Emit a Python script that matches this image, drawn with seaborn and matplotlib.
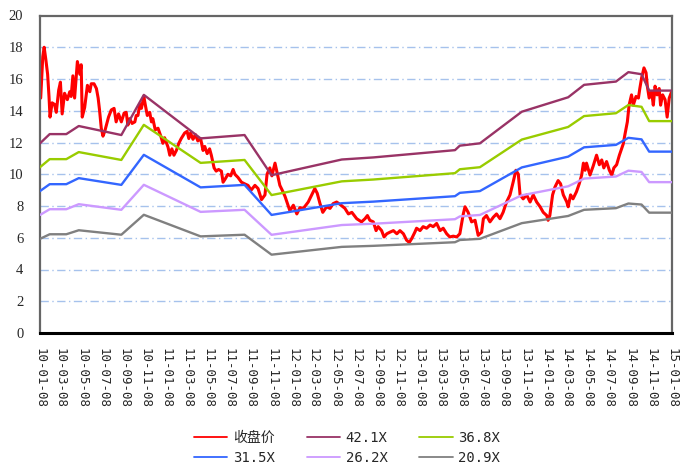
import numpy as np
import pandas as pd
import matplotlib.pyplot as plt
from matplotlib.lines import Line2D
from matplotlib.font_manager import FontProperties
import seaborn as sns

sns.set_style('white')
plt.rcParams['font.family'] = ['DejaVu Sans Mono', 'Noto Sans CJK SC']

start = pd.Timestamp('2010-01-08')
end = pd.Timestamp('2015-01-08')

# closing price (days counted from 2010-01-08)
price_days = [2, 8, 12, 17, 22, 26, 29, 35, 42, 47, 54, 59, 64, 71, 79, 86, 90, 95, 100, 108,
              115, 119, 122, 129, 137, 144, 148, 156, 163, 168, 172, 177, 182, 187, 192, 198, 206, 214, 220, 227,
              235, 243, 249, 254, 259, 266, 274, 278, 283, 288, 293, 300, 304, 310, 317, 322, 326, 333, 341, 349,
              355, 360, 370, 375, 381, 387, 394, 401, 408, 418, 425, 430, 435, 442, 449, 456, 464, 471, 476, 483,
              490, 495, 503, 509, 516, 524, 529, 535, 543, 551, 558, 563, 572, 582, 591, 601, 610, 621, 630, 640,
              650, 656, 664, 670, 679, 685, 693, 702, 708, 722, 732, 742, 751, 761, 775, 785, 794, 801, 809, 817,
              828, 838, 847, 857, 867, 881, 891, 901, 915, 929, 939, 946, 953, 963, 971, 977, 987, 994, 1002, 1011,
              1021, 1031, 1040, 1050, 1059, 1067, 1074, 1083, 1088, 1098, 1107, 1117, 1127, 1136, 1146, 1156, 1165, 1175, 1184, 1194,
              1204, 1213, 1223, 1228, 1237, 1247, 1257, 1266, 1276, 1281, 1290, 1300, 1310, 1319, 1329, 1338, 1348, 1358, 1367, 1375,
              1382, 1387, 1396, 1406, 1416, 1425, 1435, 1445, 1454, 1464, 1468, 1473, 1481, 1488, 1497, 1504, 1512, 1522, 1526, 1533,
              1540, 1550, 1558, 1565, 1570, 1575, 1579, 1589, 1598, 1608, 1616, 1623, 1629, 1637, 1645, 1652, 1658, 1666, 1674, 1681,
              1685, 1690, 1697, 1702, 1709, 1714, 1722, 1729, 1733, 1738, 1745, 1751, 1755, 1760, 1767, 1772, 1777, 1783, 1789, 1793,
              1799, 1806, 1812, 1818, 1825]
price_close = [14.8, 17.4, 18.0, 17.2, 16.3, 14.9, 13.6, 14.5, 14.4, 13.9, 15.3, 15.8, 13.8, 15.1, 14.7, 15.2, 14.9, 16.2, 14.8, 17.1,
               16.3, 16.9, 13.6, 14.2, 15.6, 15.2, 15.7, 15.7, 15.4, 14.8, 14.05, 12.9, 12.4, 12.7, 13.1, 13.6, 14.05, 14.15, 13.3, 13.8,
               13.3, 13.85, 13.9, 13.1, 13.5, 13.2, 13.3, 13.7, 13.7, 14.4, 14.15, 14.9, 14.4, 13.7, 13.9, 13.3, 13.5, 12.8, 12.9, 12.4,
               11.95, 12.3, 11.7, 11.2, 11.6, 11.2, 11.5, 11.95, 12.25, 12.6, 12.7, 12.25, 12.6, 12.2, 12.5, 12.1, 12.25, 11.5, 11.75, 11.3,
               11.6, 11.2, 10.4, 10.2, 10.3, 10.2, 9.5, 9.7, 10.0, 9.9, 10.3, 10.0, 9.8, 9.5, 9.4, 9.3, 9.0, 9.3, 9.1, 8.4,
               8.7, 10.0, 10.4, 9.9, 10.7, 10.1, 9.3, 8.9, 8.6, 7.7, 8.05, 7.5, 7.9, 7.85, 8.25, 8.7, 9.1, 8.8, 8.15, 7.6,
               7.95, 7.85, 8.15, 8.25, 8.1, 7.85, 7.5, 7.6, 7.2, 7.0, 7.2, 7.4, 7.1, 7.0, 6.45, 6.7, 6.45, 6.05, 6.25, 6.35,
               6.45, 6.25, 6.45, 6.25, 5.85, 5.7, 5.95, 6.35, 6.6, 6.45, 6.7, 6.6, 6.8, 6.7, 6.9, 6.45, 6.6, 6.25, 6.05, 6.1,
               6.05, 6.25, 7.5, 7.95, 7.6, 7.0, 7.1, 6.15, 6.35, 7.2, 7.4, 7.0, 7.3, 7.5, 7.2, 7.6, 8.25, 8.7, 9.5, 10.25,
               10.0, 8.7, 8.45, 8.7, 8.25, 8.7, 8.25, 7.95, 7.6, 7.4, 7.1, 7.4, 8.7, 9.2, 9.6, 9.4, 8.7, 8.25, 7.95, 8.7,
               8.45, 8.9, 9.4, 9.95, 10.7, 10.25, 10.7, 9.95, 10.5, 11.2, 10.6, 10.9, 10.4, 10.8, 10.25, 9.95, 10.4, 10.6, 11.2, 11.65,
               11.9, 12.5, 13.3, 14.35, 15.0, 14.35, 14.9, 14.8, 15.4, 16.05, 16.7, 16.4, 15.5, 14.8, 15.2, 14.35, 15.55, 15.0, 15.4, 14.35,
               15.0, 14.7, 13.6, 14.8, 15.2]

# EPS nodes behind the PE bands
eps_days = [0, 28, 76, 112, 235, 300, 464, 591, 669, 872, 963, 1199, 1213, 1271, 1392, 1526, 1572, 1664, 1700, 1738, 1760, 1826]
eps_values = [0.2838, 0.2976, 0.2976, 0.3097, 0.2962, 0.3563, 0.2912, 0.2962, 0.2361, 0.2596, 0.2627, 0.2736, 0.2803,
              0.2838, 0.3311, 0.3527, 0.3713, 0.3762, 0.3903, 0.3872, 0.3627, 0.3627]

pe_multiples = [42.1, 36.8, 31.5, 26.2, 20.9]
pe_labels = ['42.1X', '36.8X', '31.5X', '26.2X', '20.9X']
band_colors = ['#993366', '#99CC00', '#3366FF', '#CC99FF', '#808080']

price_df = pd.DataFrame({'date': start + pd.to_timedelta(price_days, unit='D'), 'close': price_close})
eps_dates = start + pd.to_timedelta(eps_days, unit='D')
bands = pd.concat([pd.DataFrame({'date': eps_dates, 'value': np.array(eps_values) * m, 'band': lab})
                   for m, lab in zip(pe_multiples, pe_labels)], ignore_index=True)

fig = plt.figure(figsize=(6.82, 4.67), dpi=100)
ax = fig.add_axes([40 / 682, 1 - 333 / 467, 632 / 682, (333 - 15.5) / 467])

sns.lineplot(data=price_df, x='date', y='close', color='#FF0000', lw=2.2, estimator=None, ax=ax, zorder=2)
sns.lineplot(data=bands, x='date', y='value', hue='band', hue_order=pe_labels, palette=band_colors,
             lw=1.7, estimator=None, ax=ax, legend=False, zorder=3)

ax.set_xlim(start, end)
ax.set_ylim(0, 20)
ax.set_yticks(range(0, 21, 2))
ax.set_yticklabels([str(v) for v in range(0, 21, 2)], fontfamily='Liberation Serif', fontsize=10.5)
for v in range(2, 20, 2):
    ax.axhline(v, color='#A6C2EC', lw=1.0, ls=(0, (6, 2.5, 1, 2.5)), zorder=1)

ticks = pd.date_range(start, end, freq=pd.DateOffset(months=2))
ax.set_xticks(ticks)
ax.set_xticklabels(ticks.strftime('%y-%m-%d'), rotation=270, fontsize=9, va='top', ha='center')
ax.tick_params(axis='both', length=0)
ax.tick_params(axis='x', pad=11)
ax.tick_params(axis='y', pad=12)
ax.set_xlabel('')
ax.set_ylabel('')

for side in ['left', 'top', 'right']:
    ax.spines[side].set_color('#666666')
    ax.spines[side].set_linewidth(1.6)
ax.spines['bottom'].set_color('black')
ax.spines['bottom'].set_linewidth(2.2)

# legend: row 1 = 收盘价, 42.1X, 36.8X ; row 2 = 31.5X, 26.2X, 20.9X
all_labels = ['收盘价'] + pe_labels
all_colors = ['#FF0000'] + band_colors
order = [0, 3, 1, 4, 2, 5]
handles = [Line2D([], [], color=all_colors[i], lw=1.3) for i in order]
fig.legend(handles, [all_labels[i] for i in order], ncol=3, loc='center',
           bbox_to_anchor=(347 / 682, 1 - 448 / 467), frameon=False,
           prop=FontProperties(family=['DejaVu Sans Mono', 'Noto Sans CJK SC'], size=10),
           handlelength=2.4, handletextpad=0.4, columnspacing=2.3, labelspacing=0.45)

fig.savefig('out.png', dpi=100)
